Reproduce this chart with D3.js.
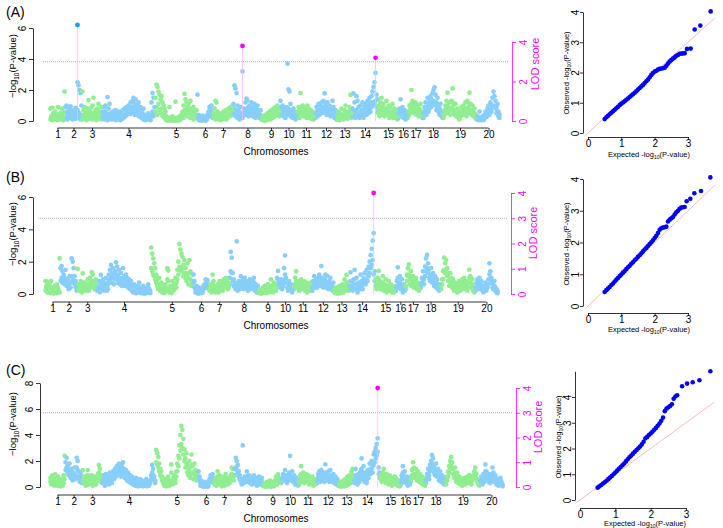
<!DOCTYPE html>
<html>
<head>
<meta charset="utf-8">
<script src="https://cdn.jsdelivr.net/npm/d3@7"></script>
<style>
body { margin: 0; background: #fff; }
svg { font-family: "Liberation Sans", Arial, sans-serif; }
</style>
</head>
<body>
<div id="chart"></div>
<script>
// ---- data ----
var chrNames = ["1","2","3","4","5","6","7","8","9","10","11","12","13","14","15","16","17","18","19","20"];
var chrLengths = [15,17,20,53,42,16,20,29,18,17,18,22,15,26,20,10,15,20,34,23];
var lodThreshold = 3;

// -log10(P) per chromosome, panel A (upper part of each cloud)
var pvalsA = [
  [0.8,0.3,0.85,0.5,0.2,0.6,0.1,0.4,0.9,0.3,0.15,0.5,0.8,0.2,0.6,1.9],
  [0.9,1.0,0.6,0.3,0.8,0.95,0.4,0.7,0.2,0.5,0.85,0.6,2.5,2.3,2.0,1.8,1.0],
  [1.9,0.7,0.9,0.5,0.3,0.8,1.35,0.6,0.4,0.9,1.0,1.5,0.5,0.7,0.3,0.8,1.1,0.6,0.4,0.9],
  [0.6,0.3,0.9,1.0,0.5,1.55,0.8,1.1,0.4,0.3,0.6,0.2,0.5,0.7,0.3,0.4,0.6,0.2,0.5,0.3,0.7,0.4,0.8,0.5,
   0.9,0.6,1.0,0.7,1.2,0.9,1.3,1.5,1.1,1.4,0.8,1.0,1.2,0.6,0.9,0.7,0.5,0.8,0.3,0.4,0.2,0.3,0.5,0.3,0.2,1.2,1.8,1.5,0.9],
  [1.5,2.35,2.2,1.9,1.7,1.4,1.6,1.2,1.0,0.8,0.6,0.3,0.1,0.2,0.9,0.1,0.05,0.3,0.15,0.05,1.25,0.2,0.1,0.05,0.3,0.1,0.4,
   0.6,1.0,1.75,1.4,1.2,0.9,1.1,0.7,1.3,0.8,0.5,0.9,0.6,0.4,0.7],
  [1.7,0.4,0.2,0.3,0.1,0.35,0.2,0.15,0.3,0.1,0.4,0.6,0.9,0.8,1.0,0.5],
  [0.5,0.8,1.3,1.2,0.6,0.3,0.4,0.2,0.5,0.3,0.6,0.4,0.7,0.3,0.5,0.8,0.6,0.9,0.7,1.0],
  [1.1,2.3,2.1,1.8,1.0,0.7,0.5,0.9,0.4,3.2,0.6,0.8,1.2,1.45,1.3,0.9,1.0,0.7,1.2,0.6,0.9,1.1,0.5,0.8,1.0,0.6,0.4,0.7,0.3],
  [0.2,0.3,0.1,0.4,0.2,0.5,0.3,0.6,0.4,0.7,0.5,0.8,0.6,0.9,0.7,1.0,0.8,0.6],
  [1.3,0.9,1.0,0.6,0.8,0.5,0.9,3.7,2.05,1.9,1.1,0.7,0.4,0.8,0.6,0.3,0.5],
  [0.6,0.9,0.7,1.8,0.8,1.0,0.5,0.9,0.7,0.6,1.0,0.8,0.5,0.7,0.4,0.6,0.3,0.5],
  [0.5,0.9,0.7,1.1,0.6,1.0,1.2,0.8,1.3,1.78,1.1,0.9,1.2,0.7,1.0,0.6,0.8,1.3,0.9,0.5,0.7,0.4],
  [0.3,0.6,0.2,0.5,0.8,0.4,0.3,0.7,1.0,0.5,0.4,0.6,0.9,1.68,0.5],
  [0.8,1.78,1.2,0.6,1.6,1.3,0.9,0.5,1.0,0.7,1.2,0.6,0.9,1.1,0.8,1.3,1.0,1.5,1.2,1.6,1.9,2.2,2.5,3.1,1.7,1.4],
  [1.0,0.7,1.2,1.5,0.9,1.1,0.6,0.8,1.3,0.7,1.0,0.5,0.9,0.6,1.1,0.4,0.8,0.5,0.7,0.3],
  [0.5,0.8,1.4,0.6,0.9,0.4,0.7,0.3,0.6,0.5],
  [0.6,1.0,0.8,2.0,1.3,1.1,0.9,1.2,0.7,1.0,0.5,0.8,1.1,0.6,0.4],
  [0.5,0.9,1.2,0.8,1.5,1.1,1.3,1.6,1.4,1.8,2.0,2.17,1.7,1.2,1.5,1.0,0.8,1.1,0.6,0.4],
  [0.4,0.7,1.0,1.3,1.83,0.9,1.2,0.8,1.3,2.1,1.0,0.7,1.1,0.5,0.8,0.4,0.3,0.6,0.9,0.7,1.0,0.8,1.2,0.6,1.3,0.9,1.83,1.1,0.7,1.0,0.5,0.8,0.4,0.2],
  [0.3,0.1,0.6,0.2,0.15,0.3,0.1,0.4,0.6,0.5,0.8,1.0,0.7,1.2,1.0,1.5,1.9,1.6,1.3,0.9,1.1,0.6,0.4]
];
// the dense band of markers near zero, panel A
var lowA = [
  [0.1,0.3,0.05,0.2,0.4,0.15,0.3,0.05,0.2,0.45,0.1,0.25,0.35,0.05,0.2],
  [0.2,0.5,0.1,0.35,0.6,0.2,0.45,0.1,0.3,0.55,0.15,0.4,0.7,0.25,0.5,0.1,0.3],
  [0.1,0.4,0.2,0.55,0.05,0.3,0.45,0.15,0.6,0.25,0.1,0.4,0.2,0.5,0.05,0.35,0.6,0.15,0.3,0.1],
  [0.2,0.45,0.1,0.6,0.3,0.05,0.4,0.2,0.5,0.1,0.3,0.15,0.4,0.05,0.25,0.1,0.35,0.2,0.05,0.3,0.15,0.4,0.25,0.6,0.35,0.7,0.5,0.8,0.45,0.9,0.6,0.75,0.4,0.85,0.55,0.7,0.3,0.6,0.45,0.2,0.35,0.1,0.25,0.05,0.15,0.3,0.1,0.2,0.05,0.4,0.6,0.3,0.5],
  [0.6,0.9,0.4,1.1,0.7,0.5,0.8,0.3,0.5,0.2,0.1,0.05,0.02,0.1,0.05,0.2,0.02,0.1,0.05,0.02,0.1,0.05,0.02,0.1,0.05,0.15,0.3,0.5,0.2,0.7,0.4,0.6,0.3,0.8,0.5,0.2,0.6,0.35,0.1,0.4,0.2,0.3],
  [0.3,0.1,0.05,0.2,0.02,0.1,0.05,0.15,0.02,0.1,0.2,0.35,0.5,0.3,0.6,0.2],
  [0.2,0.4,0.1,0.5,0.3,0.1,0.2,0.05,0.25,0.1,0.3,0.15,0.4,0.1,0.2,0.45,0.3,0.55,0.35,0.6],
  [0.5,0.8,0.3,0.6,0.2,0.4,0.1,0.3,0.5,0.2,0.35,0.6,0.4,0.7,0.5,0.3,0.6,0.4,0.8,0.3,0.5,0.7,0.2,0.4,0.6,0.3,0.2,0.4,0.1],
  [0.05,0.1,0.02,0.15,0.05,0.2,0.1,0.25,0.1,0.3,0.2,0.4,0.3,0.5,0.35,0.6,0.4,0.3],
  [0.6,0.4,0.7,0.3,0.5,0.2,0.6,0.4,0.8,0.5,0.3,0.6,0.2,0.4,0.3,0.1,0.2],
  [0.3,0.5,0.2,0.6,0.4,0.7,0.3,0.5,0.4,0.2,0.6,0.35,0.2,0.4,0.15,0.3,0.1,0.2],
  [0.2,0.5,0.3,0.7,0.4,0.6,0.8,0.5,0.9,0.6,0.7,0.4,0.8,0.5,0.6,0.3,0.5,0.7,0.4,0.2,0.3,0.1],
  [0.1,0.2,0.05,0.3,0.4,0.15,0.1,0.35,0.5,0.2,0.15,0.3,0.45,0.6,0.2],
  [0.3,0.6,0.4,0.2,0.7,0.5,0.3,0.2,0.5,0.3,0.6,0.2,0.4,0.6,0.4,0.7,0.5,0.8,0.6,0.9,1.0,1.2,1.1,1.3,0.9,0.6],
  [0.5,0.3,0.7,0.9,0.4,0.6,0.3,0.5,0.8,0.4,0.6,0.2,0.5,0.3,0.6,0.2,0.4,0.2,0.3,0.1],
  [0.2,0.5,0.7,0.3,0.5,0.2,0.4,0.1,0.3,0.2],
  [0.3,0.6,0.5,1.1,0.8,0.6,0.5,0.7,0.4,0.6,0.3,0.5,0.6,0.3,0.2],
  [0.2,0.5,0.7,0.4,0.9,0.6,0.8,1.0,0.9,1.2,1.3,1.1,1.0,0.7,0.9,0.6,0.4,0.6,0.3,0.2],
  [0.2,0.4,0.6,0.8,1.0,0.5,0.7,0.4,0.8,1.2,0.6,0.4,0.7,0.3,0.5,0.2,0.1,0.3,0.5,0.4,0.6,0.5,0.7,0.3,0.8,0.5,1.1,0.7,0.4,0.6,0.3,0.5,0.2,0.1],
  [0.1,0.05,0.2,0.1,0.05,0.15,0.05,0.2,0.3,0.25,0.5,0.6,0.4,0.7,0.6,0.9,1.0,0.9,0.8,0.5,0.6,0.3,0.2]
];

var pvalsB = [
  [0.8,0.5,0.75,0.3,0.6,0.2,0.8,0.4,0.1,0.3,0.5,0.2,0.6,0.35,0.15,2.2],
  [1.6,1.73,1.4,1.2,1.0,1.5,0.8,0.9,0.6,1.1,0.7,2.2,2.0,1.6,1.1,0.8,0.5],
  [1.55,0.6,0.4,0.8,0.3,1.28,0.5,0.7,0.4,0.6,0.9,0.5,1.0,0.7,1.34,1.2,0.8,0.6,0.9,0.5],
  [0.4,0.8,0.3,1.18,0.6,0.9,0.5,0.7,1.0,0.4,0.6,
   1.2,1.5,1.8,1.3,1.6,1.1,1.4,1.96,1.7,1.2,1.5,1.0,1.3,0.9,1.6,1.1,0.8,1.2,1.0,0.7,
   0.9,0.6,0.8,0.5,0.3,0.6,0.4,0.2,0.5,0.3,0.7,0.4,0.2,0.3,0.5,0.1,0.3,0.2,0.4,0.6,0.3,0.2],
  [2.87,2.5,2.2,1.9,1.6,1.2,0.9,0.6,1.0,0.4,0.7,0.3,0.5,
   0.2,0.6,0.4,1.6,1.45,0.3,0.5,0.2,0.8,0.4,0.6,1.0,0.7,
   1.5,2.0,3.1,2.75,2.5,2.3,1.8,2.1,1.6,1.3,1.9,1.0,2.1,1.4,0.8,1.2],
  [1.2,0.8,0.3,0.5,0.2,0.1,0.4,0.3,0.15,0.2,0.5,0.6,0.9,0.7,0.85,0.5],
  [0.4,0.6,0.3,1.2,0.8,0.5,0.2,0.4,0.6,0.3,0.8,0.5,0.7,0.4,0.9,0.6,1.0,0.8,0.5,0.7],
  [1.0,2.6,2.25,1.3,0.9,0.7,0.5,3.25,0.4,0.8,0.6,1.1,0.7,0.9,0.5,1.0,0.6,0.8,0.4,0.7,0.9,0.5,0.6,0.8,1.0,0.4,0.6,0.3,0.5],
  [0.1,0.3,0.2,0.1,0.4,0.2,0.5,0.1,0.3,0.6,0.2,0.4,0.9,0.5,0.3,0.7,0.6,0.4],
  [1.0,1.43,0.8,0.6,0.9,0.5,0.7,1.6,2.38,1.0,0.7,0.4,0.8,0.5,0.6,0.3,0.5],
  [0.5,1.0,1.4,0.6,0.8,0.4,0.7,0.9,0.5,0.6,0.8,0.4,0.7,0.3,0.6,0.5,0.7,0.4],
  [0.4,0.8,1.1,0.6,0.9,0.7,1.0,1.2,0.8,1.73,1.0,0.6,0.9,1.2,0.7,1.1,0.5,0.8,1.0,0.6,0.4,0.7],
  [0.3,0.2,0.4,0.1,0.3,0.5,0.2,0.4,0.6,0.3,0.9,0.5,1.18,0.7,0.4],
  [0.5,1.34,0.8,0.4,0.9,1.49,0.6,1.0,0.3,0.7,0.5,1.2,0.8,0.6,1.0,1.3,0.9,1.5,1.2,1.7,2.0,2.4,2.8,3.3,3.76,1.4],
  [0.9,0.6,1.0,1.43,0.8,0.5,0.7,1.1,0.4,0.6,0.9,0.3,0.5,0.8,0.4,0.6,0.3,0.5,0.2,0.4],
  [0.4,0.8,1.65,0.6,1.1,0.5,0.9,0.3,0.6,0.4],
  [0.5,1.2,1.6,1.84,1.0,1.4,0.8,1.1,0.6,0.9,1.0,0.5,0.7,0.4,0.6],
  [0.6,1.0,1.4,0.9,1.7,2.2,2.42,1.9,1.5,1.2,1.6,1.0,1.3,0.8,1.1,0.7,0.9,0.5,0.4,0.6],
  [0.5,0.9,1.4,2.25,1.9,2.1,1.6,1.2,0.8,1.3,1.0,0.6,0.9,0.4,0.7,0.5,0.3,0.6,0.8,0.4,0.7,0.9,0.5,1.0,0.6,0.8,0.4,0.7,1.5,1.1,0.6,0.9,0.4,0.3],
  [0.4,0.7,0.9,0.5,1.0,0.6,0.8,0.4,0.3,0.5,0.7,0.4,0.6,0.9,1.9,1.4,1.0,0.7,0.5,0.8,0.4,0.3,0.2]
];
var lowB = [
  [0.2,0.4,0.1,0.3,0.5,0.05,0.3,0.2,0.02,0.1,0.3,0.05,0.4,0.2,0.1],
  [0.8,1.0,0.7,0.9,0.6,0.8,0.5,0.6,0.3,0.7,0.4,1.1,0.9,0.8,0.6,0.4,0.2],
  [0.6,0.3,0.2,0.5,0.1,0.7,0.3,0.4,0.2,0.3,0.5,0.2,0.6,0.4,0.8,0.7,0.5,0.3,0.6,0.2],
  [0.2,0.5,0.1,0.7,0.3,0.6,0.2,0.4,0.6,0.2,0.3,0.8,0.9,1.1,0.7,1.0,0.6,0.9,1.2,1.0,0.7,0.9,0.6,0.8,0.5,1.0,0.7,0.5,0.8,0.6,0.4,0.5,0.3,0.5,0.2,0.1,0.3,0.2,0.05,0.3,0.1,0.4,0.2,0.05,0.1,0.3,0.02,0.1,0.05,0.2,0.4,0.1,0.05],
  [1.6,1.4,1.2,1.1,0.9,0.7,0.5,0.3,0.6,0.2,0.4,0.1,0.3,0.05,0.3,0.2,0.9,0.8,0.1,0.3,0.05,0.5,0.2,0.3,0.6,0.4,0.9,1.2,1.7,1.5,1.4,1.6,1.1,1.3,1.0,0.8,1.2,0.6,1.3,0.9,0.5,0.7],
  [0.7,0.4,0.1,0.3,0.05,0.02,0.2,0.1,0.05,0.1,0.3,0.4,0.6,0.4,0.5,0.3],
  [0.2,0.3,0.1,0.7,0.5,0.3,0.1,0.2,0.4,0.1,0.5,0.3,0.4,0.2,0.6,0.4,0.7,0.5,0.3,0.4],
  [0.6,1.4,1.3,0.8,0.5,0.4,0.3,0.6,0.2,0.5,0.3,0.7,0.4,0.6,0.3,0.7,0.4,0.5,0.2,0.4,0.6,0.3,0.4,0.5,0.7,0.2,0.4,0.1,0.3],
  [0.05,0.1,0.02,0.05,0.2,0.1,0.3,0.05,0.1,0.3,0.1,0.2,0.5,0.3,0.1,0.4,0.3,0.2],
  [0.6,0.9,0.5,0.4,0.6,0.3,0.5,0.9,1.2,0.7,0.4,0.2,0.5,0.3,0.4,0.1,0.3],
  [0.3,0.6,0.8,0.4,0.5,0.2,0.4,0.6,0.3,0.4,0.5,0.2,0.4,0.1,0.3,0.2,0.4,0.2],
  [0.2,0.5,0.7,0.4,0.6,0.4,0.7,0.8,0.5,1.0,0.7,0.4,0.6,0.8,0.4,0.7,0.3,0.5,0.6,0.4,0.2,0.4],
  [0.1,0.05,0.2,0.02,0.1,0.3,0.05,0.2,0.3,0.1,0.5,0.2,0.7,0.4,0.2],
  [0.3,0.8,0.5,0.2,0.6,0.9,0.3,0.6,0.1,0.4,0.3,0.7,0.5,0.3,0.6,0.8,0.6,0.9,0.8,1.1,1.3,1.6,1.8,2.1,1.2,0.8],
  [0.5,0.3,0.6,0.9,0.5,0.3,0.4,0.7,0.2,0.4,0.5,0.1,0.3,0.5,0.2,0.4,0.1,0.3,0.1,0.2],
  [0.2,0.5,1.0,0.4,0.7,0.3,0.5,0.1,0.4,0.2],
  [0.3,0.8,1.1,1.2,0.6,0.9,0.5,0.7,0.4,0.6,0.7,0.3,0.4,0.2,0.4],
  [0.4,0.7,0.9,0.6,1.1,1.4,1.6,1.3,1.0,0.8,1.1,0.7,0.9,0.5,0.7,0.4,0.6,0.3,0.2,0.4],
  [0.3,0.6,0.9,1.5,1.3,1.4,1.1,0.8,0.5,0.9,0.7,0.4,0.6,0.2,0.4,0.3,0.1,0.4,0.5,0.2,0.4,0.6,0.3,0.7,0.4,0.5,0.2,0.4,1.0,0.7,0.4,0.6,0.2,0.1],
  [0.2,0.4,0.6,0.3,0.7,0.4,0.5,0.2,0.1,0.3,0.4,0.2,0.4,0.6,1.2,0.9,0.7,0.4,0.3,0.5,0.2,0.1,0.05]
];

var pvalsC = [
  [0.7,0.4,0.9,0.5,0.2,0.97,0.6,0.3,0.8,0.4,0.2,0.6,0.3,0.5,0.9,2.4],
  [1.9,2.25,1.6,1.3,1.8,1.0,1.4,0.8,1.1,1.5,0.9,2.25,2.0,1.2,0.7,1.0,0.5],
  [1.3,0.5,0.8,0.3,0.6,1.3,0.4,0.7,0.5,0.9,0.3,0.6,0.8,0.4,0.7,1.0,1.7,1.4,0.6,0.9],
  [0.5,0.9,0.3,1.0,0.6,0.8,0.4,1.1,0.7,0.5,1.2,0.9,
   1.4,1.1,1.6,1.3,1.8,1.5,1.2,1.7,1.9,1.4,1.0,1.3,0.8,1.1,
   0.7,0.9,0.5,0.8,0.4,0.6,0.3,0.7,0.5,0.2,0.4,0.6,0.3,0.5,0.2,0.4,0.3,0.6,0.2,0.4,0.3,0.5,0.9,1.7,1.4,0.8,0.5],
  [2.85,2.6,2.3,1.8,1.4,1.2,0.8,0.5,
   0.3,0.6,0.2,0.4,0.8,0.3,0.5,1.74,0.4,0.7,0.9,0.5,
   1.2,1.8,2.4,3.2,4.0,4.7,4.4,3.7,2.9,2.2,2.6,1.7,1.4,2.0,1.1,2.5,1.6,1.0,1.8,1.3,0.9,1.2],
  [1.2,0.8,0.3,0.5,0.2,0.1,0.3,0.4,0.2,0.1,0.3,0.6,0.9,0.7,1.0,0.5],
  [0.4,0.7,0.3,1.2,0.6,0.9,0.4,0.2,0.5,0.8,0.3,1.0,0.6,0.4,0.7,0.5,0.9,1.5,1.4,0.8],
  [1.4,2.25,2.0,1.7,1.2,0.9,0.6,0.4,3.2,0.5,0.8,0.6,1.2,0.7,0.9,0.5,0.8,0.4,0.6,0.9,0.5,0.7,0.3,0.6,0.8,0.4,0.5,0.7,0.3],
  [0.2,0.3,0.1,0.4,0.2,0.3,0.5,0.1,0.3,0.4,0.2,0.5,0.8,0.4,0.97,0.6,0.7,0.5],
  [0.6,1.0,0.8,1.3,0.9,0.5,0.7,1.1,2.4,0.8,1.2,0.6,0.9,0.4,0.7,0.5,0.3],
  [0.4,0.9,1.6,0.7,1.1,0.5,0.8,1.0,0.6,0.9,0.4,0.7,0.5,0.8,0.3,0.6,0.4,0.5],
  [0.5,1.0,1.2,0.7,1.3,0.9,1.1,0.6,1.75,1.0,0.8,1.2,0.7,1.3,0.9,0.6,1.0,0.5,0.8,0.4,0.6,0.3],
  [0.2,0.4,0.1,0.3,0.5,0.2,0.6,0.3,0.8,0.4,0.9,0.5,1.2,1.4,0.6],
  [0.5,1.4,0.8,0.4,1.0,0.6,1.2,2.2,0.9,1.6,0.7,1.1,0.5,1.3,1.0,1.8,1.4,2.0,1.6,2.5,2.7,3.0,3.3,3.75,1.5,1.1],
  [0.9,0.6,1.1,1.4,0.8,0.5,1.0,0.7,0.4,0.9,0.6,0.3,0.7,0.5,0.8,0.4,0.6,0.3,0.5,0.2],
  [0.4,0.9,1.6,0.6,1.2,0.5,0.8,0.3,0.7,0.4],
  [0.6,1.3,1.9,1.5,1.0,1.4,0.8,1.2,0.6,1.0,0.5,0.8,0.4,0.7,0.3],
  [0.5,1.0,1.4,0.9,1.7,2.0,2.45,2.2,1.6,1.3,1.8,1.1,1.4,0.8,1.2,0.6,0.9,0.5,0.4,0.7],
  [0.4,0.8,1.2,1.6,2.0,2.3,1.9,1.4,1.0,1.5,0.7,1.1,0.5,0.8,0.4,0.6,0.3,0.5,0.7,0.4,0.6,0.8,0.5,0.9,0.6,0.4,0.7,0.9,1.2,1.5,1.0,0.6,0.4,0.3],
  [0.5,0.8,0.4,1.0,0.7,1.74,1.2,0.9,0.6,1.0,0.5,0.8,1.5,1.1,0.7,0.9,0.4,0.6,0.3,0.5,0.7,0.4,0.2]
];
var lowC = [
  [0.4,0.2,0.6,0.3,0.1,0.6,0.4,0.1,0.5,0.2,0.05,0.4,0.1,0.3,0.6],
  [1.3,1.5,1.1,0.9,1.2,0.7,1.0,0.5,0.8,1.0,0.6,1.5,1.3,0.8,0.4,0.6,0.3],
  [0.8,0.3,0.5,0.1,0.4,0.9,0.2,0.4,0.3,0.6,0.1,0.4,0.5,0.2,0.4,0.7,1.1,0.9,0.4,0.6],
  [0.3,0.6,0.1,0.7,0.4,0.5,0.2,0.8,0.4,0.3,0.8,0.6,1.0,0.8,1.1,0.9,1.2,1.0,0.8,1.1,1.3,1.0,0.7,0.9,0.5,0.8,0.4,0.6,0.3,0.5,0.2,0.4,0.1,0.5,0.3,0.05,0.2,0.4,0.1,0.3,0.05,0.2,0.1,0.4,0.05,0.2,0.1,0.3,0.6,1.1,0.9,0.5,0.3],
  [1.9,1.7,1.5,1.2,0.9,0.8,0.5,0.3,0.1,0.4,0.05,0.2,0.5,0.1,0.3,1.1,0.2,0.4,0.6,0.3,0.8,1.2,1.6,2.2,2.8,3.3,3.0,2.5,2.0,1.5,1.8,1.1,0.9,1.4,0.7,1.7,1.0,0.6,1.2,0.8,0.5,0.7],
  [0.8,0.5,0.1,0.3,0.05,0.02,0.1,0.2,0.05,0.02,0.1,0.4,0.6,0.4,0.7,0.3],
  [0.2,0.4,0.1,0.8,0.3,0.6,0.2,0.05,0.3,0.5,0.1,0.7,0.4,0.2,0.4,0.3,0.6,1.0,0.9,0.5],
  [0.9,1.5,1.3,1.1,0.8,0.6,0.4,0.2,0.6,0.3,0.5,0.4,0.8,0.4,0.6,0.3,0.5,0.2,0.4,0.6,0.3,0.5,0.1,0.4,0.5,0.2,0.3,0.4,0.1],
  [0.05,0.1,0.02,0.2,0.05,0.1,0.3,0.02,0.1,0.2,0.05,0.3,0.5,0.2,0.6,0.4,0.5,0.3],
  [0.4,0.7,0.5,0.9,0.6,0.3,0.5,0.7,0.9,0.5,0.8,0.4,0.6,0.2,0.4,0.3,0.1],
  [0.2,0.6,1.0,0.4,0.7,0.3,0.5,0.7,0.4,0.6,0.2,0.5,0.3,0.5,0.1,0.4,0.2,0.3],
  [0.3,0.7,0.8,0.4,0.9,0.6,0.8,0.4,1.1,0.7,0.5,0.8,0.4,0.9,0.6,0.4,0.7,0.3,0.5,0.2,0.4,0.1],
  [0.05,0.2,0.02,0.1,0.3,0.05,0.4,0.1,0.5,0.2,0.6,0.3,0.8,0.9,0.4],
  [0.3,0.9,0.5,0.2,0.7,0.4,0.8,1.4,0.6,1.1,0.4,0.7,0.3,0.9,0.7,1.2,1.0,1.4,1.1,1.7,1.9,2.2,2.4,2.7,1.0,0.7],
  [0.6,0.4,0.7,1.0,0.5,0.3,0.7,0.4,0.2,0.6,0.4,0.1,0.5,0.3,0.5,0.2,0.4,0.1,0.3,0.05],
  [0.2,0.6,1.1,0.4,0.8,0.3,0.5,0.1,0.5,0.2],
  [0.4,0.9,1.4,1.0,0.7,1.0,0.5,0.8,0.4,0.7,0.3,0.5,0.2,0.4,0.1],
  [0.3,0.7,1.0,0.6,1.2,1.4,1.8,1.6,1.1,0.9,1.3,0.8,1.0,0.5,0.8,0.4,0.6,0.3,0.2,0.4],
  [0.2,0.5,0.8,1.1,1.5,1.7,1.4,1.0,0.7,1.1,0.4,0.8,0.3,0.5,0.2,0.4,0.1,0.3,0.5,0.2,0.4,0.5,0.3,0.6,0.4,0.2,0.5,0.6,0.9,1.1,0.7,0.4,0.2,0.1],
  [0.3,0.5,0.2,0.7,0.4,1.2,0.8,0.6,0.4,0.7,0.3,0.5,1.0,0.8,0.4,0.6,0.2,0.4,0.1,0.3,0.5,0.2,0.05]
];

// highlighted markers: chr, offset inside chromosome, value, axis it is read on
var hitsA = [{chr: 2, at: 12.5, value: 6.2, kind: "p"}, {chr: 8, at: 9.5, value: 3.8, kind: "lod"}, {chr: 14, at: 23.5, value: 3.2, kind: "lod"}];
var hitsB = [{chr: 14, at: 24.5, value: 4.0, kind: "lod"}];
var hitsC = [{chr: 14, at: 23.5, value: 4.0, kind: "lod"}];

// QQ plots: expected vs observed -log10(P)
var qqExpA = [0.50,0.55,0.60,0.65,0.70,0.75,0.80,0.85,0.90,0.95,1.00,1.05,1.10,1.15,1.20,1.25,1.30,1.35,1.40,1.45,1.50,1.55,1.60,1.65,1.70,1.75,1.80,1.85,1.90,1.95,2.00,2.05,2.10,2.15,2.20,2.25,2.30,2.35,2.40,2.45,2.50,2.55,2.60,2.65,2.70,2.75,2.80,2.85,2.90,2.97,3.08,3.20,3.37,3.68];
var qqObsA = [0.46,0.52,0.57,0.62,0.67,0.72,0.77,0.82,0.87,0.92,0.97,1.01,1.05,1.10,1.14,1.19,1.24,1.28,1.33,1.38,1.44,1.49,1.54,1.59,1.65,1.71,1.77,1.84,1.92,1.98,2.03,2.06,2.10,2.12,2.13,2.14,2.16,2.22,2.30,2.36,2.41,2.46,2.50,2.55,2.58,2.62,2.63,2.63,2.64,2.78,2.79,3.42,3.55,4.02];
var qqExpB = [0.50,0.55,0.60,0.65,0.70,0.75,0.80,0.85,0.90,0.95,1.00,1.05,1.10,1.15,1.20,1.25,1.30,1.35,1.40,1.45,1.50,1.55,1.60,1.65,1.70,1.75,1.80,1.85,1.90,1.95,2.00,2.05,2.10,2.15,2.20,2.25,2.30,2.35,2.40,2.45,2.50,2.55,2.60,2.65,2.70,2.75,2.80,2.85,2.90,2.96,3.07,3.19,3.39,3.67];
var qqObsB = [0.44,0.50,0.55,0.60,0.66,0.71,0.77,0.83,0.88,0.94,0.99,1.05,1.10,1.16,1.22,1.27,1.33,1.38,1.44,1.49,1.55,1.60,1.66,1.72,1.78,1.83,1.89,1.95,2.01,2.07,2.14,2.21,2.30,2.40,2.45,2.47,2.48,2.50,2.66,2.72,2.76,2.80,2.88,2.95,3.00,3.06,3.10,3.11,3.12,3.30,3.38,3.55,3.62,4.05];
var qqExpC = [0.50,0.55,0.60,0.65,0.70,0.75,0.80,0.85,0.90,0.95,1.00,1.05,1.10,1.15,1.20,1.25,1.30,1.35,1.40,1.45,1.50,1.55,1.60,1.65,1.70,1.75,1.80,1.85,1.90,1.95,2.00,2.05,2.10,2.15,2.20,2.25,2.30,2.35,2.40,2.45,2.50,2.55,2.60,2.65,2.70,2.75,2.89,3.03,3.19,3.38,3.69];
var qqObsC = [0.48,0.53,0.58,0.64,0.69,0.75,0.81,0.87,0.93,1.00,1.07,1.14,1.21,1.28,1.35,1.42,1.50,1.58,1.66,1.73,1.80,1.87,1.94,2.01,2.08,2.16,2.26,2.40,2.45,2.52,2.58,2.65,2.73,2.80,2.88,2.97,3.08,3.20,3.45,3.55,3.60,3.65,3.72,3.93,4.02,4.07,4.42,4.52,4.57,4.65,5.00];

// ---- layout (pixel positions of each panel) ----
var panels = [
  {tag: "(A)", tagY: 17, pvals: pvalsA, low: lowA, hits: hitsA, yMax: 6, yTicks: [0,2,4,6], yAxisX: 33, yTop: 28, yBase: 121,
   x0: 50, x1: 500, lodX: 512, lodTop: 42, lodTicks: [0,2,4], chrAxisY: 128, xlabY: 155, ylabY: 66, lodLabX: 539, lodLabY: 64,
   qq: {exp: qqExpA, obs: qqObsA, axisX: 583, y0: 133, y4: 12, yLineMax: 4, axisY: 137, x0: 588, x3: 688, ylabX: 569, ylabY: 73, xlabX: 649, xlabY: 157}},
  {tag: "(B)", tagY: 182, pvals: pvalsB, low: lowB, hits: hitsB, yMax: 6, yTicks: [0,2,4,6], yAxisX: 33, yTop: 197, yBase: 294,
   x0: 45, x1: 498, lodX: 511, lodTop: 193, lodTicks: [0,1,2,3,4], chrAxisY: 302, xlabY: 329, ylabY: 234, lodLabX: 537, lodLabY: 233,
   qq: {exp: qqExpB, obs: qqObsB, axisX: 583, y0: 306, y4: 179, yLineMax: 4, axisY: 313, x0: 588, x3: 688, ylabX: 569, ylabY: 244, xlabX: 649, xlabY: 332}},
  {tag: "(C)", tagY: 375, pvals: pvalsC, low: lowC, hits: hitsC, yMax: 8, yTicks: [0,2,4,6,8], yAxisX: 40, yTop: 383, yBase: 487,
   x0: 50, x1: 503, lodX: 516, lodTop: 388, lodTicks: [0,1,2,3,4], chrAxisY: 495, xlabY: 522, ylabY: 424, lodLabX: 542, lodLabY: 427,
   qq: {exp: qqExpC, obs: qqObsC, axisX: 575, y0: 500, y4: 397, yLineMax: 5, axisY: 508, x0: 580, x3: 686, ylabX: 561, ylabY: 437, xlabX: 645, xlabY: 526}}
];

var chrColors = ["#90EE90", "#87CEFA"];
var hitColors = {p: "#1a9be3", lod: "#ff00ff"};
var hitLineColors = {p: "#a8dcf6", lod: "#ffb3ff"};
var intFmt = d3.format("d");

var svg = d3.select("#chart").append("svg")
    .attr("width", 723)
    .attr("height", 528);
svg.append("rect").attr("width", 723).attr("height", 528).attr("fill", "#fff");

var chrStarts = [];
var acc = 0;
chrLengths.forEach(function(l) { chrStarts.push(acc); acc += l; });
var genomeLen = acc;

// R-like styling of a d3 axis: thin lines, rotated labels for vertical axes
function styleAxis(g, color, rotate, offset) {
    g.selectAll("path, line").attr("stroke", color).attr("stroke-width", 0.8);
    g.selectAll("text").attr("fill", color);
    if (rotate) {
        g.selectAll("text")
            .attr("x", null).attr("dy", null)
            .attr("text-anchor", "middle")
            .attr("transform", "translate(" + offset + ",0) rotate(-90)");
    }
}

function subLabel(g, parts, size) {
    var t = g.append("text").attr("font-size", size);
    t.append("tspan").text(parts[0]);
    t.append("tspan").attr("font-size", size * 0.68).attr("dy", size * 0.28).text("10");
    t.append("tspan").attr("dy", -size * 0.28).text(parts[1]);
    return t;
}

function toPoints(list) {
    var pts = [];
    list.forEach(function(vals, c) {
        vals.forEach(function(v, j) {
            pts.push({pos: chrStarts[c] + (j + 0.5) / vals.length * chrLengths[c], v: v, c: c});
        });
    });
    return pts;
}

function drawManhattan(p) {
    var x = d3.scaleLinear().domain([0, genomeLen]).range([p.x0, p.x1]);
    var y = d3.scaleLinear().domain([0, p.yMax]).range([p.yBase, p.yTop]);
    var lod = d3.scaleLinear().domain([0, 4]).range([p.yBase, p.lodTop]);

    var pts = toPoints(p.low).concat(toPoints(p.pvals));

    svg.append("g").selectAll("circle")
        .data(pts)
        .enter().append("circle")
        .attr("cx", function(d) { return x(d.pos); })
        .attr("cy", function(d) { return y(d.v); })
        .attr("r", 2.35)
        .attr("fill", function(d) { return chrColors[d.c % 2]; });

    // significance threshold (LOD 3)
    svg.append("line")
        .attr("x1", p.x0 - 7).attr("x2", p.lodX - 4)
        .attr("y1", lod(lodThreshold)).attr("y2", lod(lodThreshold))
        .attr("stroke", "#9a9a9a").attr("stroke-width", 0.8)
        .attr("stroke-dasharray", "1,1");

    var hg = svg.append("g");
    p.hits.forEach(function(h) {
        var hx = x(chrStarts[h.chr - 1] + h.at);
        var hy = h.kind == "p" ? y(h.value) : lod(h.value);
        hg.append("line")
            .attr("x1", hx).attr("x2", hx).attr("y1", hy).attr("y2", p.yBase)
            .attr("stroke", hitLineColors[h.kind]).attr("stroke-width", 0.7);
        hg.append("circle")
            .attr("cx", hx).attr("cy", hy).attr("r", 2.4)
            .attr("fill", hitColors[h.kind]);
    });

    // left axis
    var yAxis = d3.axisLeft(y).tickValues(p.yTicks).tickFormat(intFmt).tickSize(4).tickSizeOuter(0);
    var gy = svg.append("g")
        .attr("transform", "translate(" + p.yAxisX + ",0)")
        .attr("font-size", 7.5).attr("font-family", "Liberation Sans, Arial, sans-serif")
        .call(yAxis);
    styleAxis(gy, "#000", true, -7);

    // LOD axis on the right
    var lodAxis = d3.axisRight(lod).tickValues(p.lodTicks).tickFormat(intFmt).tickSize(4).tickSizeOuter(0);
    var gl = svg.append("g")
        .attr("transform", "translate(" + p.lodX + ",0)")
        .attr("font-size", 7.5).attr("font-family", "Liberation Sans, Arial, sans-serif")
        .call(lodAxis);
    styleAxis(gl, "#ff00ff", true, 15);

    // chromosome axis
    var centers = chrStarts.map(function(s, i) { return s + chrLengths[i] / 2; });
    var xAxis = d3.axisBottom(x).tickValues(centers)
        .tickFormat(function(d, i) { return chrNames[i]; })
        .tickSize(3).tickSizeOuter(0);
    var gx = svg.append("g")
        .attr("transform", "translate(0," + p.chrAxisY + ")")
        .attr("font-size", 8).attr("font-family", "Liberation Sans, Arial, sans-serif")
        .call(xAxis);
    gx.select(".domain").remove();
    gx.append("line")
        .attr("x1", x(centers[0])).attr("x2", x(centers[centers.length - 1]))
        .attr("stroke", "#000");
    styleAxis(gx, "#000", false);
    gx.selectAll("text").attr("y", 2.5);

    svg.append("text")
        .attr("x", 276).attr("y", p.xlabY)
        .attr("text-anchor", "middle").attr("font-size", 10)
        .text("Chromosomes");

    subLabel(svg, ["\u2212log", "(P-value)"], 9.5)
        .attr("text-anchor", "middle")
        .attr("transform", "translate(" + 16 + "," + p.ylabY + ") rotate(-90)");

    svg.append("text")
        .attr("text-anchor", "middle").attr("font-size", 11)
        .attr("fill", "#ff00ff")
        .attr("transform", "translate(" + p.lodLabX + "," + p.lodLabY + ") rotate(-90)")
        .text("LOD score");

    svg.append("text")
        .attr("x", 6).attr("y", p.tagY)
        .attr("font-size", 14)
        .text(p.tag);
}

function drawQQ(q) {
    var x = d3.scaleLinear().domain([0, 3]).range([q.x0, q.x3]);
    var y = d3.scaleLinear().domain([0, 4]).range([q.y0, q.y4]);

    // expected = observed line
    svg.append("line")
        .attr("x1", x(-0.1)).attr("y1", y(-0.1))
        .attr("x2", x(3.8)).attr("y2", y(3.8))
        .attr("stroke", "#f5b5b5").attr("stroke-width", 0.9);

    svg.append("g").selectAll("circle")
        .data(q.exp)
        .enter().append("circle")
        .attr("cx", function(d) { return x(d); })
        .attr("cy", function(d, i) { return y(q.obs[i]); })
        .attr("r", 2.3)
        .attr("fill", "#0000ff");

    var yLine = d3.scaleLinear().domain([0, q.yLineMax]).range([q.y0, y(q.yLineMax)]);
    var gy = svg.append("g")
        .attr("transform", "translate(" + q.axisX + ",0)")
        .attr("font-size", 6).attr("font-family", "Liberation Sans, Arial, sans-serif")
        .call(d3.axisLeft(yLine).tickValues([0,1,2,3,4]).tickFormat(intFmt).tickSize(3).tickSizeOuter(0));
    styleAxis(gy, "#000", true, -4.5);

    var gx = svg.append("g")
        .attr("transform", "translate(0," + q.axisY + ")")
        .attr("font-size", 6).attr("font-family", "Liberation Sans, Arial, sans-serif")
        .call(d3.axisBottom(x).tickValues([0,1,2,3]).tickFormat(intFmt).tickSize(3).tickSizeOuter(0));
    styleAxis(gx, "#000", false);
    gx.selectAll("text").attr("y", 3);

    subLabel(svg, ["Expected -log", "(P-value)"], 7.5)
        .attr("text-anchor", "middle")
        .attr("x", q.xlabX).attr("y", q.xlabY);

    subLabel(svg, ["Observed -log", "(P-value)"], 7.5)
        .attr("text-anchor", "middle")
        .attr("transform", "translate(" + q.ylabX + "," + q.ylabY + ") rotate(-90)");
}

panels.forEach(function(p) {
    drawManhattan(p);
    drawQQ(p.qq);
});
</script>
</body>
</html>
